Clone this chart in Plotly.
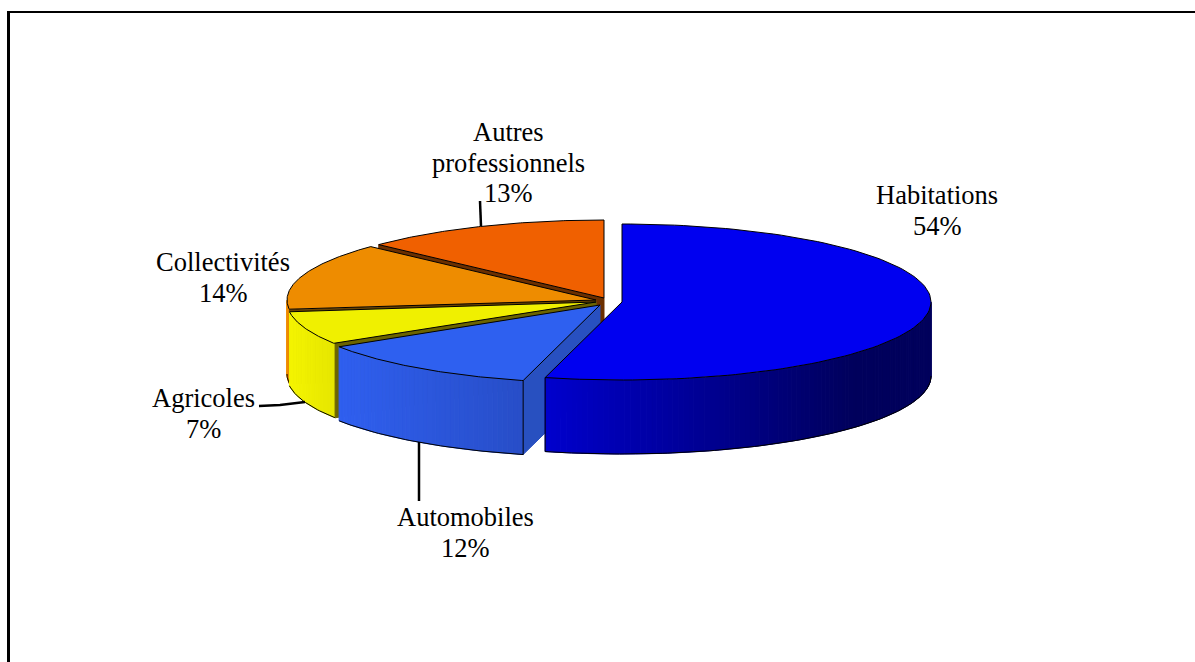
import numpy as np
import plotly.graph_objects as go

# slices, clockwise from 12 o'clock
categories = ["Habitations", "Automobiles", "Agricoles", "Collectivités", "Autres<br>professionnels"]
shares = [54, 12, 7, 14, 13]

# look of the slices
top_colors = ["#0000F0", "#2E60F0", "#F0F000", "#EE8C00", "#F06000"]
rim_left = [(0, 0, 205), (48, 96, 240), (245, 245, 0), (240, 140, 0), (240, 96, 0)]
rim_right = [(0, 0, 92), (40, 78, 200), (230, 230, 0), (240, 140, 0), (240, 96, 0)]
face_colors = ["#000080", "#2850C0", "#6B6400", "#6B4400", "#6B2F00"]
centers = [(622, 302), (600, 305), (596, 302), (596, 300), (604, 298)]

RX, RY, DEPTH = 309, 78, 74

label_x = [937, 465, 203, 223, 508]
label_y = [195, 517, 398, 262, 132]
LINE_GAP = 30.5

# label leaders, page pixels
leaders = [
    ([480, 481], [201, 226]),
    ([259, 280, 305], [406, 405, 402]),
    ([419, 419], [442, 501]),
]


def ellipse(cx, cy, angles):
    a = np.radians(angles)
    return cx + RX * np.sin(a), cy - RY * np.cos(a)


def poly(fig, xs, ys, fill, line=None, width=1):
    fig.add_trace(go.Scatter(
        x=list(xs), y=list(ys), mode="lines", fill="toself", fillcolor=fill,
        line=dict(color=line or fill, width=width), hoverinfo="skip",
    ))


def outline(fig, xs, ys):
    fig.add_trace(go.Scatter(
        x=list(xs), y=list(ys), mode="lines",
        line=dict(color="black", width=1), hoverinfo="skip",
    ))


def draw_rim(fig, i, start, end, edge_lines=False):
    # only the front half of the rim shows
    lo, hi = max(start, 90), min(end, 270)
    if lo >= hi:
        return
    cx, cy = centers[i]
    angles = np.linspace(lo, hi, int(hi - lo) + 2)
    xs, ys = ellipse(cx, cy, angles)
    x_left, x_right = xs.min(), xs.max()
    for k in range(len(angles) - 1):
        t = ((xs[k] + xs[k + 1]) / 2 - x_left) / max(x_right - x_left, 1)
        t = min(t / 0.8, 1) if i == 0 else t
        c = [int(a + (b - a) * t) for a, b in zip(rim_left[i], rim_right[i])]
        color = f"rgb({c[0]},{c[1]},{c[2]})"
        poly(fig, [xs[k], xs[k + 1], xs[k + 1], xs[k], xs[k]],
             [ys[k], ys[k + 1], ys[k + 1] + DEPTH, ys[k] + DEPTH, ys[k]], color)
    outline(fig, xs, ys + DEPTH)
    if edge_lines:
        outline(fig, [xs[0], xs[0]], [ys[0], ys[0] + DEPTH])


def draw_face(fig, i, angle):
    # flat cut side of a slice, running from the centre out to the rim
    cx, cy = centers[i]
    ex, ey = ellipse(cx, cy, np.array([angle]))
    poly(fig, [cx, ex[0], ex[0], cx, cx],
         [cy, ey[0], ey[0] + DEPTH, cy + DEPTH, cy], face_colors[i])


def draw_top(fig, i, start, end):
    cx, cy = centers[i]
    xs, ys = ellipse(cx, cy, np.linspace(start, end, 120))
    poly(fig, [cx, *xs, cx], [cy, *ys, cy], top_colors[i], "black", 1)


fig = go.Figure()

edges = np.cumsum([0] + shares) / sum(shares) * 360

# back to front: Autres, Collectivités, Agricoles, Automobiles, Habitations
draw_face(fig, 4, edges[4])
draw_top(fig, 4, edges[4], edges[5])

draw_rim(fig, 3, edges[3], edges[4])
draw_face(fig, 3, edges[3])
draw_top(fig, 3, edges[3], edges[4])

draw_rim(fig, 2, edges[2], edges[3])
draw_face(fig, 2, edges[2])
draw_top(fig, 2, edges[2], edges[3])

draw_face(fig, 1, edges[1])
draw_rim(fig, 1, edges[1], edges[2], edge_lines=True)
draw_top(fig, 1, edges[1], edges[2])

draw_rim(fig, 0, edges[0], edges[1], edge_lines=False)
outline_x, outline_y = ellipse(*centers[0], np.array([edges[1]]))
outline(fig, [outline_x[0], outline_x[0]], [outline_y[0], outline_y[0] + DEPTH])
draw_top(fig, 0, edges[0], edges[1])

for xs, ys in leaders:
    fig.add_trace(go.Scatter(
        x=xs, y=ys, mode="lines", line=dict(color="black", width=2.5), hoverinfo="skip",
    ))

for name, share, lx, ly in zip(categories, shares, label_x, label_y):
    for n, text in enumerate(name.split("<br>") + [f"{share}%"]):
        fig.add_annotation(
            x=lx, y=ly + n * LINE_GAP, text=text, showarrow=False,
            xanchor="center", yanchor="middle",
            font=dict(family="Liberation Serif", size=26.5, color="black"),
        )

fig.update_layout(
    width=1195,
    height=662,
    margin=dict(l=0, r=0, t=0, b=0),
    showlegend=False,
    plot_bgcolor="white",
    paper_bgcolor="white",
    hovermode=False,
    xaxis=dict(range=[0, 1195], visible=False, fixedrange=True),
    yaxis=dict(range=[662, 0], visible=False, fixedrange=True),
    shapes=[
        dict(type="line", x0=7.5, x1=1195, y0=12, y1=12, line=dict(color="black", width=2)),
        dict(type="line", x0=8.5, x1=8.5, y0=11, y1=662, line=dict(color="black", width=3)),
    ],
)

fig.write_html(
    "out.html",
    config=dict(displayModeBar=False),
    post_script="document.body.style.margin='0';document.body.style.overflow='hidden';",
)
